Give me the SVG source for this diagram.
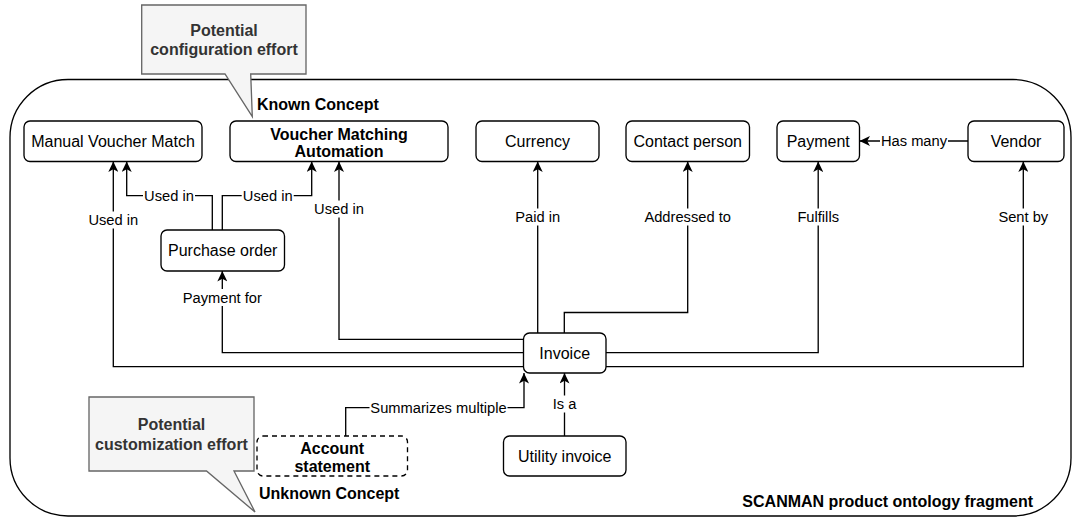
<svg xmlns="http://www.w3.org/2000/svg" width="1072" height="518" viewBox="0 0 1072 518">
<defs>
<style>
.box{fill:#fff;stroke:#000;stroke-width:1.33}
.dash{stroke-dasharray:5 4}
.t{font-family:"Liberation Sans",Arial,sans-serif;font-size:16px;fill:#000;text-anchor:middle}
.b{font-weight:bold}
.e{fill:none;stroke:#000;stroke-width:1.33;marker-end:url(#arr)}
.lbl{font-family:"Liberation Sans",Arial,sans-serif;font-size:14.7px;fill:#000;text-anchor:middle}
.lb{fill:#fff;stroke:none}
.co{fill:#f5f5f5;stroke:#666;stroke-width:1.33}
.ct{fill:#333}
</style>
<marker id="arr" markerUnits="userSpaceOnUse" markerWidth="11" markerHeight="10" viewBox="0 0 11 10" refX="10.5" refY="5" orient="auto">
<path d="M0,0 L10.5,5 L0,10 L2.8,5 Z" fill="#000"/>
</marker>
</defs>
<rect width="1072" height="518" fill="#fff"/>
<g id="container">
<rect x="10" y="79.5" width="1061" height="436.5" rx="58" ry="58" fill="none" stroke="#000" stroke-width="1.33"/>
<text class="t b" x="1033" y="507" style="text-anchor:end">SCANMAN product ontology fragment</text>
</g>
<g id="callout-config">
<path class="co" d="M141.7,5 H306 V74 H250.7 L252.3,116.5 L225,74 H141.7 Z"/>
<text class="t b ct" x="224" y="36">Potential</text>
<text class="t b ct" x="224" y="55">configuration effort</text>
</g>
<g id="callout-custom">
<path class="co" d="M89,397 H254 V471 H234 L255,512 L206.5,471 H89 Z"/>
<text class="t b ct" x="171.5" y="430">Potential</text>
<text class="t b ct" x="171.5" y="450">customization effort</text>
</g>
<g id="connectors">
<path class="e" d="M212.3,230 V195.7 H126.7 V161.5"/>
<path class="e" d="M222.3,230 V195.7 H311.7 V161.5"/>
<path class="e" d="M523.5,366.7 H113.3 V161.5"/>
<path class="e" d="M523.5,339.3 H339 V161.5"/>
<path class="e" d="M523.5,352.7 H222.3 V271"/>
<path class="e" d="M537.7,333 V161.5"/>
<path class="e" d="M564.3,333 V312.5 H687.7 V161.5"/>
<path class="e" d="M606,352.7 H818.2 V161.5"/>
<path class="e" d="M606,366.7 H1023.3 V161.5"/>
<path class="e" d="M968,141 H859.5"/>
<path class="e" d="M345.7,436 V407.7 H524 V373"/>
<path class="e" d="M564.5,436 V373"/>
<rect class="lb" x="143" y="187.2" width="52" height="17"/>
<text class="lbl" x="169" y="201">Used in</text>
<rect class="lb" x="241.7" y="187.2" width="52" height="17"/>
<text class="lbl" x="267.7" y="201">Used in</text>
<rect class="lb" x="87.3" y="211.5" width="52" height="17"/>
<text class="lbl" x="113.3" y="225.3">Used in</text>
<rect class="lb" x="313" y="200.5" width="52" height="17"/>
<text class="lbl" x="339" y="214.3">Used in</text>
<rect class="lb" x="181.5" y="289" width="81.5" height="17"/>
<text class="lbl" x="222.3" y="302.8">Payment for</text>
<rect class="lb" x="514.2" y="208.5" width="47" height="17"/>
<text class="lbl" x="537.7" y="222.3">Paid in</text>
<rect class="lb" x="643.4" y="208.5" width="88.6" height="17"/>
<text class="lbl" x="687.7" y="222.3">Addressed to</text>
<rect class="lb" x="796.4" y="208.5" width="43.6" height="17"/>
<text class="lbl" x="818.2" y="222.3">Fulfills</text>
<rect class="lb" x="997.3" y="208.5" width="52" height="17"/>
<text class="lbl" x="1023.3" y="222.3">Sent by</text>
<rect class="lb" x="880" y="132.5" width="68" height="17"/>
<text class="lbl" x="914" y="146.3">Has many</text>
<rect class="lb" x="369.5" y="399.2" width="138" height="17"/>
<text class="lbl" x="438.5" y="413">Summarizes multiple</text>
<rect class="lb" x="551.5" y="395.5" width="26" height="17"/>
<text class="lbl" x="564.5" y="409.3">Is a</text>
</g>
<g id="node-manual-voucher-match">
<rect class="box" x="24" y="121" width="178" height="40.5" rx="6"/>
<text class="t" x="113" y="146.8">Manual Voucher Match</text>
</g>
<g id="node-voucher-matching-automation">
<rect class="box" x="230" y="121" width="218" height="40.5" rx="6"/>
<text class="t b" x="339" y="139.5">Voucher Matching</text>
<text class="t b" x="339" y="157">Automation</text>
<text class="t b" x="257" y="110" style="text-anchor:start">Known Concept</text>
</g>
<g id="node-currency">
<rect class="box" x="476" y="121" width="123" height="40.5" rx="6"/>
<text class="t" x="537.5" y="146.8">Currency</text>
</g>
<g id="node-contact-person">
<rect class="box" x="626" y="121" width="123.5" height="40.5" rx="6"/>
<text class="t" x="687.7" y="146.8">Contact person</text>
</g>
<g id="node-payment">
<rect class="box" x="777" y="121" width="82.5" height="40.5" rx="6"/>
<text class="t" x="818.2" y="146.8">Payment</text>
</g>
<g id="node-vendor">
<rect class="box" x="968" y="121" width="96" height="40.5" rx="6"/>
<text class="t" x="1016" y="146.8">Vendor</text>
</g>
<g id="node-purchase-order">
<rect class="box" x="161" y="230" width="123.5" height="41" rx="6"/>
<text class="t" x="222.7" y="256.3">Purchase order</text>
</g>
<g id="node-invoice">
<rect class="box" x="523.5" y="333" width="82.5" height="40" rx="6"/>
<text class="t" x="564.7" y="358.8">Invoice</text>
</g>
<g id="node-utility-invoice">
<rect class="box" x="503.5" y="436" width="122.5" height="40" rx="6"/>
<text class="t" x="564.7" y="461.8">Utility invoice</text>
</g>
<g id="node-account-statement">
<rect class="box dash" x="257" y="436" width="150.5" height="40" rx="6"/>
<text class="t b" x="332.2" y="453.5">Account</text>
<text class="t b" x="332.2" y="471.5">statement</text>
<text class="t b" x="259" y="499" style="text-anchor:start">Unknown Concept</text>
</g>
</svg>
